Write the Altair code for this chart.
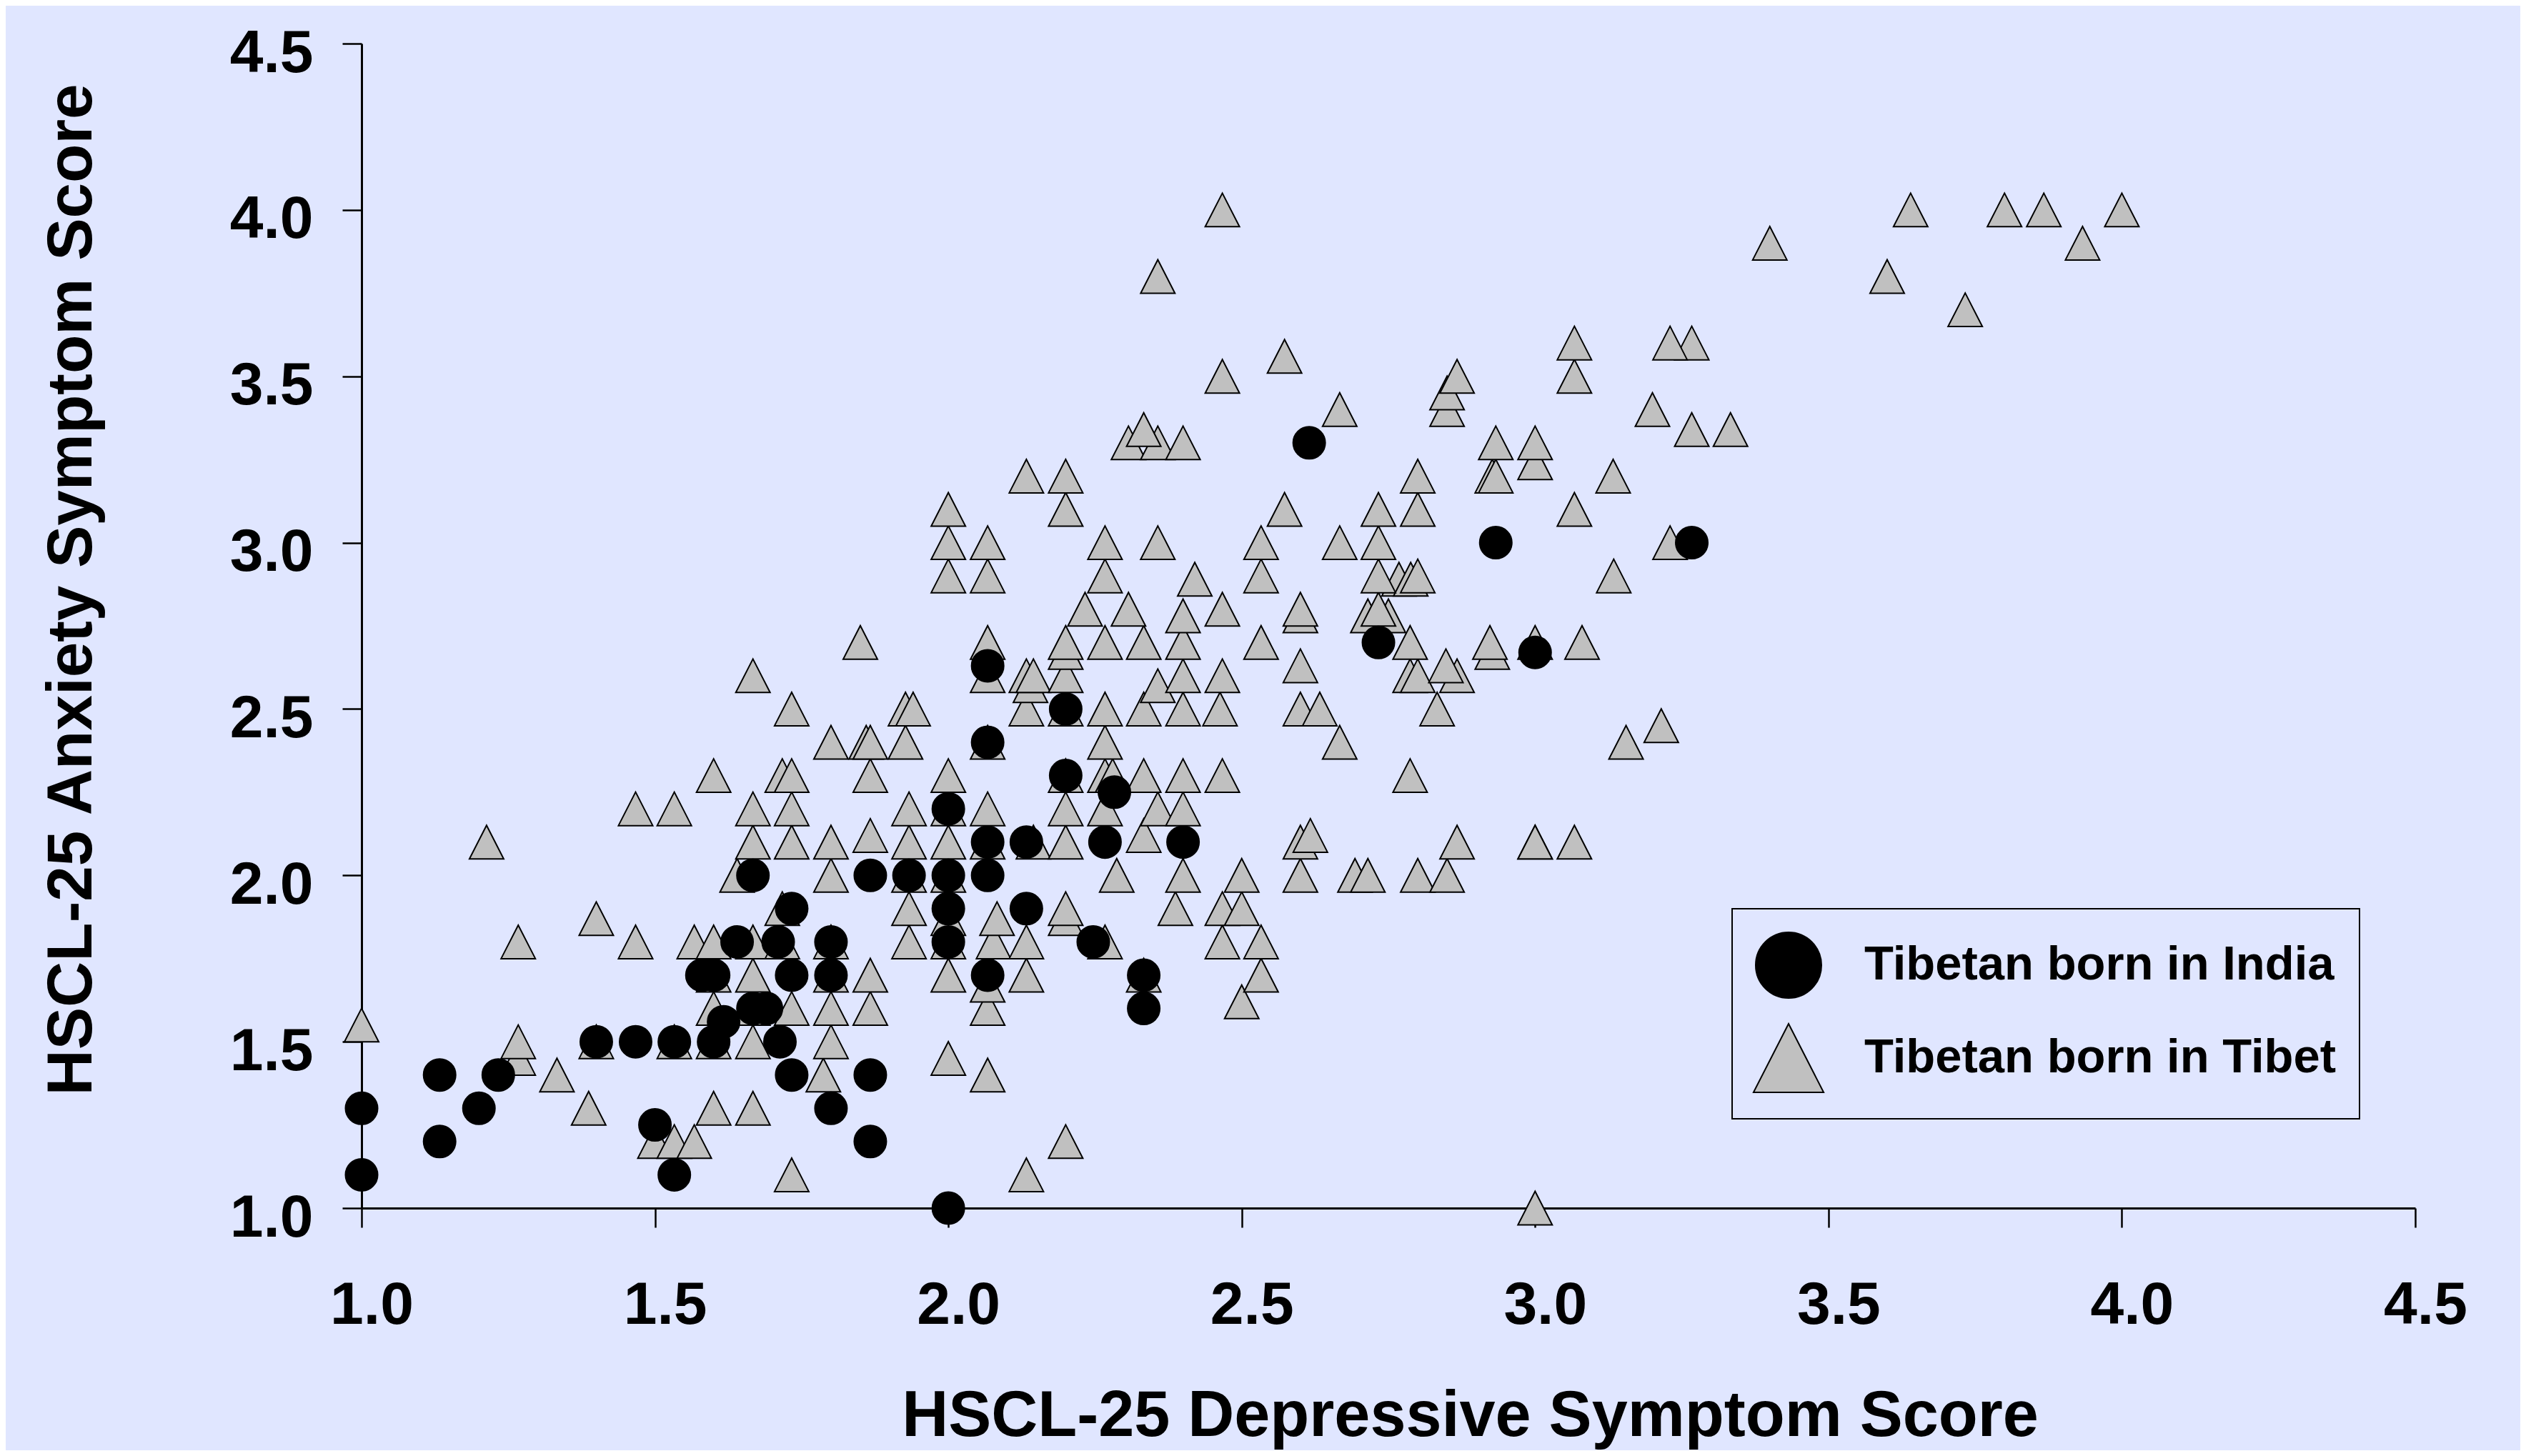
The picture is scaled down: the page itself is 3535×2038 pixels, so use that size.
import altair as alt
import pandas as pd

# ---- data: anxiety score -> list of depressive scores ----
groups = ["Tibetan born in India", "Tibetan born in Tibet"]

tibet_rows = {
    1.0: [3.0],
    1.1: [1.733, 2.133],
    1.2: [1.5, 1.533, 1.567, 2.2],
    1.3: [1.387, 1.6, 1.667],
    1.4: [1.333, 1.787, 2.067],
    1.45: [1.267, 2.0],
    1.5: [1.267, 1.4, 1.533, 1.6, 1.667, 1.8],
    1.55: [1.0],
    1.6: [1.6, 1.667, 1.733, 1.8, 1.867, 2.067],
    1.62: [2.5],
    1.67: [2.067],
    1.7: [1.6, 1.667, 1.8, 1.867, 2.0, 2.133, 2.333, 2.533],
    1.8: [1.267, 1.467, 1.567, 1.6, 1.667, 1.717, 1.8, 1.933, 2.0, 2.077, 2.133, 2.267, 2.467, 2.533],
    1.87: [1.4, 2.0, 2.083, 2.2],
    1.9: [1.717, 1.933, 2.2, 2.387, 2.467, 2.5],
    2.0: [1.64, 1.8, 1.933, 2.0, 2.287, 2.4, 2.5, 2.6, 2.693, 2.715, 2.8, 2.85],
    2.1: [1.213, 1.667, 1.733, 1.8, 1.933, 2.0, 2.067, 2.145, 2.2, 2.6, 2.867, 3.0, 3.0, 3.067],
    2.12: [1.867, 2.333, 2.617],
    2.2: [1.467, 1.533, 1.667, 1.733, 1.933, 2.0, 2.067, 2.2, 2.267, 2.357, 2.4],
    2.3: [1.6, 1.717, 1.733, 1.867, 2.0, 2.2, 2.267, 2.28, 2.333, 2.4, 2.467, 2.787],
    2.4: [1.8, 1.86, 1.867, 1.927, 2.067, 2.267, 2.667, 3.155],
    2.45: [3.215],
    2.5: [1.733, 1.927, 1.94, 2.133, 2.2, 2.267, 2.333, 2.4, 2.463, 2.6, 2.633, 2.833],
    2.57: [2.14, 2.357],
    2.6: [1.667, 2.067, 2.133, 2.145, 2.2, 2.4, 2.467, 2.787, 2.8, 2.867],
    2.63: [2.6, 2.848],
    2.67: [2.2, 2.927],
    2.7: [1.85, 2.067, 2.2, 2.267, 2.333, 2.4, 2.533, 2.787, 2.923, 3.0, 3.08],
    2.78: [2.4, 2.6, 2.715, 2.75],
    2.8: [2.233, 2.307, 2.467, 2.6, 2.733],
    2.89: [2.42, 2.768, 2.788],
    2.9: [2.0, 2.067, 2.267, 2.533, 2.733, 2.8, 3.134],
    3.0: [2.0, 2.067, 2.267, 2.357, 2.533, 2.667, 2.733, 3.23],
    3.1: [2.0, 2.2, 2.573, 2.733, 2.8, 3.067],
    3.2: [2.133, 2.2, 2.8, 2.927, 2.933, 3.133],
    3.24: [3.0],
    3.3: [2.307, 2.357, 2.4, 2.933, 3.0],
    3.34: [2.333, 3.267, 3.333],
    3.4: [2.667, 2.85, 3.2],
    3.45: [2.85],
    3.5: [2.467, 2.867, 3.067],
    3.56: [2.573],
    3.6: [3.067, 3.267, 3.23],
    3.7: [3.733],
    3.8: [2.357, 3.6],
    3.9: [3.4, 3.933],
    4.0: [2.467, 3.64, 3.8, 3.867, 4.0],
}

india_rows = {
    1.0: [2.0],
    1.1: [1.0, 1.533],
    1.2: [1.133, 1.867],
    1.25: [1.5],
    1.3: [1.0, 1.2, 1.8],
    1.4: [1.133, 1.233, 1.733, 1.867],
    1.5: [1.4, 1.467, 1.533, 1.6, 1.713],
    1.56: [1.617],
    1.6: [1.667, 1.69, 2.333],
    1.7: [1.58, 1.6, 1.733, 1.8, 2.067, 2.333],
    1.8: [1.64, 1.71, 1.8, 2.0, 2.247],
    1.9: [1.733, 2.0, 2.133],
    2.0: [1.667, 1.867, 1.933, 2.0, 2.067],
    2.1: [2.067, 2.133, 2.267, 2.4],
    2.2: [2.0],
    2.25: [2.283],
    2.3: [2.2],
    2.4: [2.067],
    2.5: [2.2],
    2.63: [2.067],
    2.67: [3.0],
    2.7: [2.733],
    3.0: [2.933, 3.267],
    3.3: [2.615],
}

x_ticks = [1.0, 1.5, 2.0, 2.5, 3.0, 3.5, 4.0, 4.5]
y_ticks = [1.0, 1.5, 2.0, 2.5, 3.0, 3.5, 4.0, 4.5]

records = []
for grp, rows in ((groups[1], tibet_rows), (groups[0], india_rows)):
    for yv, xs in rows.items():
        for xv in xs:
            records.append({"dep": xv, "anx": yv, "group": grp, "order": len(records)})
df = pd.DataFrame(records)

TRI = "M-1.067,1.044L1.067,1.044L0,-1.044Z"
FONT = "Liberation Sans"
BG = "#E0E6FF"

legend = alt.Legend(
    title=None,
    orient="none",
    legendX=1918,
    legendY=1211,
    padding=32,
    strokeColor="black",
    symbolSize=8464,
    symbolStrokeColor="black",
    symbolStrokeWidth=2,
    labelFont=FONT,
    labelFontSize=67,
    labelFontWeight="bold",
    labelColor="black",
    labelOffset=59,
    labelLimit=2000,
    rowPadding=27,
    direction="vertical",
)

x_axis = alt.Axis(
    values=x_ticks, format=".1f", grid=False,
    labelFont=FONT, labelFontSize=84, labelFontWeight="bold", labelColor="black",
    labelFlush=False, labelOverlap=False, labelPadding=68, labelBaseline="top",
    labelOffset=14,
    tickSize=27, tickWidth=2.5, tickColor="black",
    domainColor="black", domainWidth=3,
    title="HSCL-25 Depressive Symptom Score",
    titleFont=FONT, titleFontSize=90, titleFontWeight="bold", titleColor="black",
    titleX=1551, titleY=318, titleAlign="center", titleBaseline="alphabetic",
)

y_axis = alt.Axis(
    values=y_ticks, format=".1f", grid=False,
    labelFont=FONT, labelFontSize=84, labelFontWeight="bold", labelColor="black",
    labelFlush=False, labelOverlap=False, labelPadding=41, labelOffset=14,
    tickSize=27, tickWidth=2.5, tickColor="black",
    domainColor="black", domainWidth=3,
    title="HSCL-25 Anxiety Symptom Score",
    titleFont=FONT, titleFontSize=89, titleFontWeight="bold", titleColor="black",
    titleX=-379, titleY=764, titleAngle=270, titleAlign="center",
    titleBaseline="alphabetic",
)

chart = (
    alt.Chart(df)
    .mark_point(filled=True, opacity=1, stroke="black", strokeWidth=2, size=2025, clip=False)
    .encode(
        x=alt.X("dep:Q", scale=alt.Scale(domain=[1, 4.5], nice=False, zero=False), axis=x_axis),
        y=alt.Y("anx:Q", scale=alt.Scale(domain=[1, 4.5], nice=False, zero=False), axis=y_axis),
        color=alt.Color("group:N", scale=alt.Scale(domain=groups, range=["#000000", "#C0C0C0"]), legend=legend),
        shape=alt.Shape("group:N", scale=alt.Scale(domain=groups, range=["circle", TRI]), legend=legend),
        order=alt.Order("order:Q"),
    )
    .properties(
        width=2874,
        height=1630,
        autosize=alt.AutoSizeParams(type="none"),
        padding={"left": 498, "top": 53, "right": 147, "bottom": 339},
        background=BG,
    )
    .configure_view(strokeWidth=0)
    .configure_legend(strokeWidth=2)
)

chart.save("out.html", embed_options={"renderer": "svg", "actions": False})
